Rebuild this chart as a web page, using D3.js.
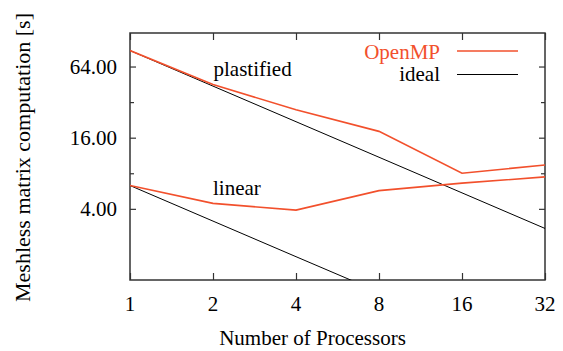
<!DOCTYPE html>
<html><head><meta charset="utf-8"><script src="https://cdn.jsdelivr.net/npm/d3@7"></script></head>
<body style="margin:0">
<svg id="chart" width="563" height="351"></svg>
<script>
// ---- data ----
const processors = [1, 2, 4, 8, 16, 32];
const xTickLabels = ["1", "2", "4", "8", "16", "32"];
const plastifiedOpenMP = [87.4, 45.0, 27.6, 18.1, 8.0, 9.4];
const plastifiedIdeal  = [87.4, 43.7, 21.85, 10.93, 5.46, 2.73];
const linearOpenMP = [6.3, 4.45, 3.9, 5.7, 6.6, 7.45];
const linearIdeal  = [6.3, 3.15, 1.575, 0.79, 0.39, 0.2];
const yTickValues = [4, 16, 64];
const yTickLabels = ["4.00", "16.00", "64.00"];
const yMinorTicks = [8, 32];
const seriesNames = ["OpenMP", "ideal"];
const groupLabels = ["plastified", "linear"];

const red = "#f2502c";
const frameColor = "#333";
const FONT = "'Liberation Serif'";

const svg = d3.select("#chart");
const L = 130, R = 545, T = 33, B = 280;

const x = d3.scaleLog().base(2).domain([1, 32]).range([L, R]);
const y = d3.scaleLog().base(2).domain([1, 123]).range([B, T]);

const fmtX = (d) => xTickLabels[processors.indexOf(d)];
const fmtY = (d) => yTickLabels[yTickValues.indexOf(d)];

// tick marks only (no text) from d3 axes
const axes = [
  [d3.axisBottom(x).tickValues(processors).tickSizeInner(-7), B, true],
  [d3.axisTop(x).tickValues(processors).tickSizeInner(-7), T, true],
  [d3.axisLeft(y).tickValues(yTickValues).tickSizeInner(-6), L, false],
  [d3.axisRight(y).tickValues(yTickValues).tickSizeInner(-6), R, false],
  [d3.axisLeft(y).tickValues(yMinorTicks).tickSizeInner(-4), L, false],
  [d3.axisRight(y).tickValues(yMinorTicks).tickSizeInner(-4), R, false]
];
axes.forEach(([ax, pos, horiz]) => {
  const g = svg.append("g")
    .attr("transform", horiz ? `translate(0,${pos})` : `translate(${pos},0)`)
    .call(ax.tickSizeOuter(0).tickFormat(""));
  g.select(".domain").remove();
  g.selectAll(".tick text").remove();
  g.selectAll(".tick line").attr("stroke", frameColor).attr("stroke-width", 1.2);
});

svg.append("rect").attr("x", L).attr("y", T).attr("width", R - L).attr("height", B - T)
  .attr("fill", "none").attr("stroke", frameColor).attr("stroke-width", 1.5);

svg.append("clipPath").attr("id", "clip")
  .append("rect").attr("x", L).attr("y", T).attr("width", R - L).attr("height", B - T);

const line = d3.line().x((d, i) => x(processors[i])).y(d => y(d));
const plot = svg.append("g").attr("clip-path", "url(#clip)");
const draw = (data, color, w) => plot.append("path").datum(data)
  .attr("d", line).attr("fill", "none").attr("stroke", color).attr("stroke-width", w);

draw(plastifiedIdeal, "#000", 1);
draw(linearIdeal, "#000", 1);
draw(plastifiedOpenMP, red, 1.6);
draw(linearOpenMP, red, 1.6);

const addText = (xx, yy, txt, size, color, anchor) => svg.append("text")
  .attr("x", xx).attr("y", yy).attr("text-anchor", anchor)
  .style("font-family", FONT).style("font-size", size + "px").style("fill", color).text(txt);

// tick labels
processors.forEach(p => addText(x(p), 310.5, fmtX(p), 21, "#000", "middle"));
yTickValues.forEach(v => addText(117, y(v) + 7, fmtY(v), 21, "#000", "end"));

addText(213.5, 76, groupLabels[0], 21, "#000", "start");
addText(213, 195, groupLabels[1], 21, "#000", "start");

const legendItems = [
  { name: seriesNames[0], color: red, base: 58.5, ly: 51, w: 1.6 },
  { name: seriesNames[1], color: "#000", base: 81, ly: 74.5, w: 1 }
];
legendItems.forEach(it => {
  addText(440, it.base, it.name, 21, it.color, "end");
  svg.append("line").attr("x1", 457).attr("x2", 518).attr("y1", it.ly).attr("y2", it.ly)
    .attr("stroke", it.color).attr("stroke-width", it.w);
});

addText(312.5, 345, "Number of Processors", 21, "#000", "middle");
addText(0, 0, "Meshless matrix computation [s]", 22, "#000", "middle")
  .attr("transform", "translate(30,157.5) rotate(-90)");
</script></body></html>
